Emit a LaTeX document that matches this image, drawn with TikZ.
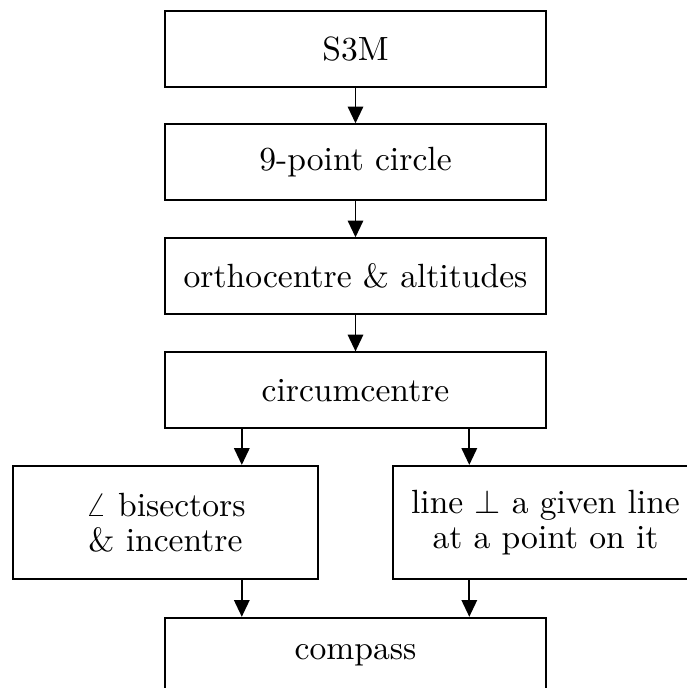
\documentclass[tikz,border=0pt]{standalone}
\usetikzlibrary{arrows.meta}
\begin{document}
\begin{tikzpicture}[x=0.29762pt, y=-0.29762pt,
  box/.style={draw, line width=0.55pt, rectangle, inner sep=0pt,
    minimum width=113.4pt, minimum height=22.6pt, align=center,
    font=\fontsize{10}{10.4}\selectfont},
  widebox/.style={box, minimum width=90.6pt, minimum height=33.8pt},
  arr/.style={line width=0.55pt, -{Triangle[length=5pt, width=4.6pt]}}]
  \useasboundingbox (0,0) rectangle (686,688);

  % central column
  \node[box] (s3m)    at (355.5, 48.7)  {S3M};
  \node[box] (nine)   at (355.5, 162.2) {9-point circle};
  \node[box] (ortho)  at (355.5, 276.2) {orthocentre \& altitudes};
  \node[box] (circ)   at (355.5, 390.3) {circumcentre};

  % the two side branches
  \node[widebox] (bis)  at (165.5, 522.6) {$\angle$ bisectors\\\& incentre};
  \node[widebox] (perp) at (545.5, 522.6) {line $\perp$ a given line\\at a point on it};

  \node[box] (comp) at (355.5, 655.7) {compass};

  % x-positions of the branch arrows
  \coordinate (lx) at (241.8, 0);
  \coordinate (rx) at (469.3, 0);

  \draw[arr] (s3m)   -- (nine);
  \draw[arr] (nine)  -- (ortho);
  \draw[arr] (ortho) -- (circ);
  \draw[arr] (circ.south -| lx) -- (bis.north -| lx);
  \draw[arr] (circ.south -| rx) -- (perp.north -| rx);
  \draw[arr] (bis.south -| lx)  -- (comp.north -| lx);
  \draw[arr] (perp.south -| rx) -- (comp.north -| rx);
\end{tikzpicture}
\end{document}
